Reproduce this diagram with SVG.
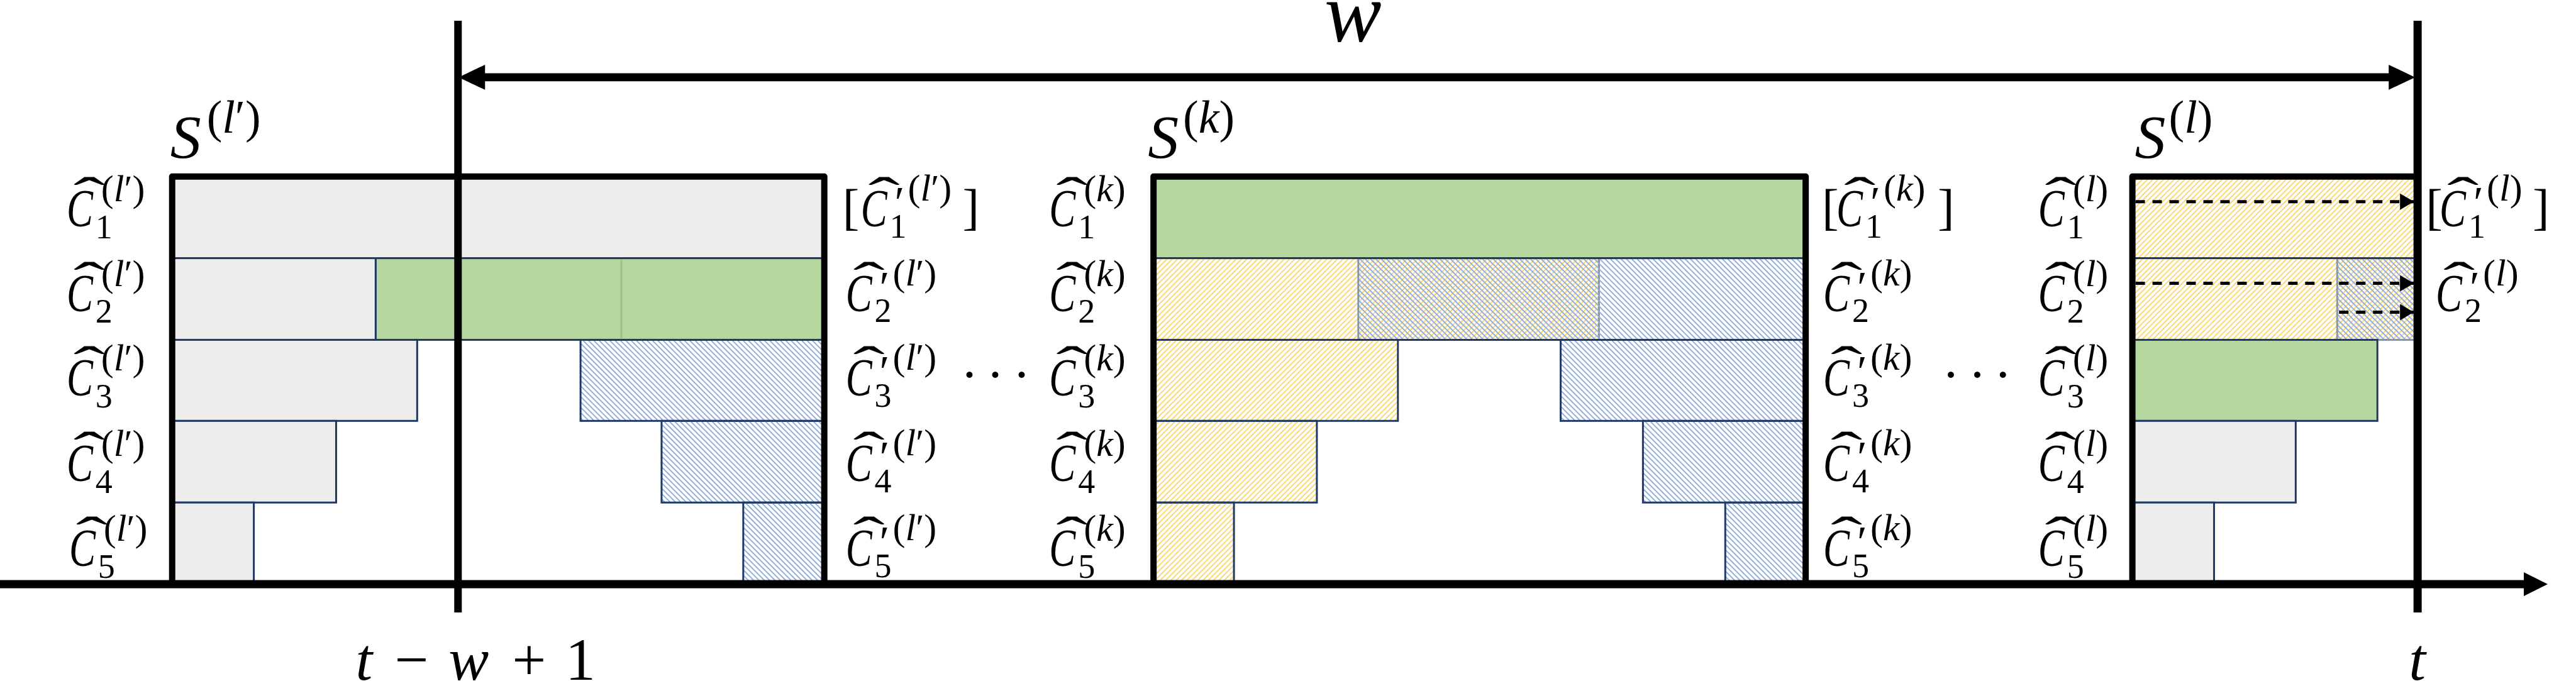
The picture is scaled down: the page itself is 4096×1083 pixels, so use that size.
<svg xmlns="http://www.w3.org/2000/svg" width="4096" height="1083" viewBox="0 0 4096 1083">
<style>
.gr{fill:#EDEDED;stroke:#203864;stroke-width:3}
.gn{fill:#B6D7A0;stroke:#203864;stroke-width:3}
.hy{fill:url(#py);stroke:#203864;stroke-width:3}
.hb{fill:url(#pb);stroke:#203864;stroke-width:3}
.hy2{fill:url(#py);stroke:#8497B0;stroke-width:3}
.hb2{fill:url(#pb);stroke:#8497B0;stroke-width:3}
.nv{stroke:#203864;stroke-width:3;fill:none}
.fr{fill:none;stroke:#000;stroke-width:10;stroke-linejoin:round}
.vl{stroke:#000;stroke-width:12}
.dash{stroke:#000;stroke-width:5;stroke-dasharray:15 12;marker-end:url(#ah)}
text{font-family:"Liberation Serif","Times New Roman",serif;fill:#000}
.C{font-size:84px;font-style:italic}
.hat{font-size:84px}
.sb{font-size:54px}
.sp{font-size:60px}
.pr{font-size:72px}
.i{font-style:italic}
.S{font-size:98px;font-style:italic}
.Sp{font-size:74px}
.br{font-size:80px}
.big{font-size:96px}
.w{font-size:136px;font-style:italic}
.dots{font-size:84px}
</style>
<defs>
<pattern id="py" width="6" height="6" patternUnits="userSpaceOnUse" patternTransform="rotate(45)"><line x1="3" y1="0" x2="3" y2="6" stroke="#FAD673" stroke-width="2"/></pattern>
<pattern id="pb" width="6" height="6" patternUnits="userSpaceOnUse" patternTransform="rotate(-45)"><line x1="3" y1="0" x2="3" y2="6" stroke="#93AEDD" stroke-width="2"/></pattern>
<marker id="ah" markerUnits="userSpaceOnUse" markerWidth="22" markerHeight="26" refX="22" refY="13" orient="auto"><path d="M0,0L22,13L0,26Z" fill="#000"/></marker>
</defs>
<g transform="scale(0.999)">

<g id="box-S-lprime">
<rect class="gr" x="274" y="281" width="1038" height="130"/>
<rect class="gr" x="274" y="411" width="324" height="130"/>
<rect class="gn" x="598" y="411" width="714" height="130"/>
<line x1="989" y1="413" x2="989" y2="539" stroke="#9DC487" stroke-width="3"/>
<rect class="gr" x="274" y="541" width="390" height="129"/>
<rect class="hb" x="924" y="541" width="388" height="129"/>
<rect class="gr" x="274" y="670" width="261" height="130"/>
<rect class="hb" x="1053" y="670" width="259" height="130"/>
<rect class="gr" x="274" y="800" width="130" height="130"/>
<rect class="hb" x="1183" y="800" width="129" height="130"/>
<path class="fr" d="M274,930V281H1312V930"/>
<text class="S" x="271" y="251">S</text><text class="Sp" x="329" y="211">(<tspan class="i">l</tspan>′)</text>
</g>

<g id="box-S-k">
<rect class="gn" x="1836" y="281" width="1038" height="130"/>
<rect class="hy2" x="1836" y="411" width="709" height="130"/>
<rect class="hb2" x="2162" y="411" width="712" height="130"/>
<path class="nv" d="M1836,411H2874M1836,541H2874"/>
<rect class="hy" x="1836" y="541" width="389" height="129"/>
<rect class="hb" x="2484" y="541" width="390" height="129"/>
<rect class="hy" x="1836" y="670" width="260" height="130"/>
<rect class="hb" x="2615" y="670" width="259" height="130"/>
<rect class="hy" x="1836" y="800" width="128" height="130"/>
<rect class="hb" x="2746" y="800" width="128" height="130"/>
<path class="fr" d="M1836,930V281H2874V930"/>
<text class="S" x="1827" y="251">S</text><text class="Sp" x="1883" y="211">(<tspan class="i">k</tspan>)</text>
</g>

<g id="box-S-l">
<rect class="hy" x="3394" y="281" width="454" height="130"/>
<rect class="hy2" x="3394" y="411" width="454" height="130"/>
<rect class="hb2" x="3720" y="411" width="128" height="130"/>
<path class="nv" d="M3394,411H3848"/>
<rect class="gn" x="3394" y="541" width="390" height="129"/>
<rect class="gr" x="3394" y="670" width="260" height="130"/>
<rect class="gr" x="3394" y="800" width="130" height="130"/>
<path class="fr" d="M3394,930V281H3848"/>
<text class="S" x="3398" y="251">S</text><text class="Sp" x="3452" y="211">(<tspan class="i">l</tspan>)</text>
</g>

<g id="connectors">
<line x1="0" y1="930" x2="4020" y2="930" stroke="#000" stroke-width="13"/>
<polygon points="4017,911 4055,930 4017,949" fill="#000"/>
<line class="vl" x1="729" y1="33" x2="729" y2="975"/>
<line x1="3848" y1="33" x2="3848" y2="975" stroke="#000" stroke-width="13"/>
<line x1="770" y1="123" x2="3804" y2="123" stroke="#000" stroke-width="13"/>
<polygon points="730,123 772,103 772,143" fill="#000"/>
<polygon points="3844,123 3802,103 3802,143" fill="#000"/>
<line class="dash" x1="3399" y1="321" x2="3842" y2="321"/>
<line class="dash" x1="3399" y1="451" x2="3842" y2="451"/>
<line class="dash" x1="3723" y1="497" x2="3842" y2="497"/>
</g>

<g id="labels-S-lprime-in">
<g transform="translate(106,360)"><text class="C" transform="scale(.75,1)">C</text><text class="hat" text-anchor="middle" transform="translate(36,-20) scale(1.8,1)">ˆ</text><text class="sb" x="46" y="19">1</text><text class="sp" x="55" y="-40">(<tspan class="i">l</tspan>′)</text></g>
<g transform="translate(106,495)"><text class="C" transform="scale(.75,1)">C</text><text class="hat" text-anchor="middle" transform="translate(36,-20) scale(1.8,1)">ˆ</text><text class="sb" x="46" y="19">2</text><text class="sp" x="55" y="-40">(<tspan class="i">l</tspan>′)</text></g>
<g transform="translate(106,630)"><text class="C" transform="scale(.75,1)">C</text><text class="hat" text-anchor="middle" transform="translate(36,-20) scale(1.8,1)">ˆ</text><text class="sb" x="46" y="19">3</text><text class="sp" x="55" y="-40">(<tspan class="i">l</tspan>′)</text></g>
<g transform="translate(106,766)"><text class="C" transform="scale(.75,1)">C</text><text class="hat" text-anchor="middle" transform="translate(36,-20) scale(1.8,1)">ˆ</text><text class="sb" x="46" y="19">4</text><text class="sp" x="55" y="-40">(<tspan class="i">l</tspan>′)</text></g>
<g transform="translate(110,901)"><text class="C" transform="scale(.75,1)">C</text><text class="hat" text-anchor="middle" transform="translate(36,-20) scale(1.8,1)">ˆ</text><text class="sb" x="46" y="19">5</text><text class="sp" x="55" y="-40">(<tspan class="i">l</tspan>′)</text></g>
</g>

<g id="labels-S-lprime-out">
<text class="br" x="1341" y="356">[</text>
<g transform="translate(1370,360)"><text class="C" transform="scale(.75,1)">C</text><text class="hat" text-anchor="middle" transform="translate(37,-20) scale(1.8,1)">ˆ</text><text class="pr" x="54" y="-14">′</text><text class="sb" x="46" y="18">1</text><text class="sp" x="75" y="-41">(<tspan class="i">l</tspan>′)</text></g>
<text class="br" x="1532" y="356">]</text>
<g transform="translate(1346,495)"><text class="C" transform="scale(.75,1)">C</text><text class="hat" text-anchor="middle" transform="translate(37,-20) scale(1.8,1)">ˆ</text><text class="pr" x="54" y="-14">′</text><text class="sb" x="46" y="18">2</text><text class="sp" x="75" y="-41">(<tspan class="i">l</tspan>′)</text></g>
<g transform="translate(1346,630)"><text class="C" transform="scale(.75,1)">C</text><text class="hat" text-anchor="middle" transform="translate(37,-20) scale(1.8,1)">ˆ</text><text class="pr" x="54" y="-14">′</text><text class="sb" x="46" y="18">3</text><text class="sp" x="75" y="-41">(<tspan class="i">l</tspan>′)</text></g>
<g transform="translate(1346,766)"><text class="C" transform="scale(.75,1)">C</text><text class="hat" text-anchor="middle" transform="translate(37,-20) scale(1.8,1)">ˆ</text><text class="pr" x="54" y="-14">′</text><text class="sb" x="46" y="18">4</text><text class="sp" x="75" y="-41">(<tspan class="i">l</tspan>′)</text></g>
<g transform="translate(1346,901)"><text class="C" transform="scale(.75,1)">C</text><text class="hat" text-anchor="middle" transform="translate(37,-20) scale(1.8,1)">ˆ</text><text class="pr" x="54" y="-14">′</text><text class="sb" x="46" y="18">5</text><text class="sp" x="75" y="-41">(<tspan class="i">l</tspan>′)</text></g>
</g>

<g id="labels-S-k-in">
<g transform="translate(1670,360)"><text class="C" transform="scale(.75,1)">C</text><text class="hat" text-anchor="middle" transform="translate(36,-20) scale(1.8,1)">ˆ</text><text class="sb" x="46" y="19">1</text><text class="sp" x="55" y="-40">(<tspan class="i">k</tspan>)</text></g>
<g transform="translate(1670,495)"><text class="C" transform="scale(.75,1)">C</text><text class="hat" text-anchor="middle" transform="translate(36,-20) scale(1.8,1)">ˆ</text><text class="sb" x="46" y="19">2</text><text class="sp" x="55" y="-40">(<tspan class="i">k</tspan>)</text></g>
<g transform="translate(1670,630)"><text class="C" transform="scale(.75,1)">C</text><text class="hat" text-anchor="middle" transform="translate(36,-20) scale(1.8,1)">ˆ</text><text class="sb" x="46" y="19">3</text><text class="sp" x="55" y="-40">(<tspan class="i">k</tspan>)</text></g>
<g transform="translate(1670,766)"><text class="C" transform="scale(.75,1)">C</text><text class="hat" text-anchor="middle" transform="translate(36,-20) scale(1.8,1)">ˆ</text><text class="sb" x="46" y="19">4</text><text class="sp" x="55" y="-40">(<tspan class="i">k</tspan>)</text></g>
<g transform="translate(1670,901)"><text class="C" transform="scale(.75,1)">C</text><text class="hat" text-anchor="middle" transform="translate(36,-20) scale(1.8,1)">ˆ</text><text class="sb" x="46" y="19">5</text><text class="sp" x="55" y="-40">(<tspan class="i">k</tspan>)</text></g>
</g>

<g id="labels-S-k-out">
<text class="br" x="2900" y="356">[</text>
<g transform="translate(2923,360)"><text class="C" transform="scale(.75,1)">C</text><text class="hat" text-anchor="middle" transform="translate(37,-20) scale(1.8,1)">ˆ</text><text class="pr" x="54" y="-14">′</text><text class="sb" x="46" y="18">1</text><text class="sp" x="75" y="-41">(<tspan class="i">k</tspan>)</text></g>
<text class="br" x="3084" y="356">]</text>
<g transform="translate(2902,495)"><text class="C" transform="scale(.75,1)">C</text><text class="hat" text-anchor="middle" transform="translate(37,-20) scale(1.8,1)">ˆ</text><text class="pr" x="54" y="-14">′</text><text class="sb" x="46" y="18">2</text><text class="sp" x="75" y="-41">(<tspan class="i">k</tspan>)</text></g>
<g transform="translate(2902,630)"><text class="C" transform="scale(.75,1)">C</text><text class="hat" text-anchor="middle" transform="translate(37,-20) scale(1.8,1)">ˆ</text><text class="pr" x="54" y="-14">′</text><text class="sb" x="46" y="18">3</text><text class="sp" x="75" y="-41">(<tspan class="i">k</tspan>)</text></g>
<g transform="translate(2902,766)"><text class="C" transform="scale(.75,1)">C</text><text class="hat" text-anchor="middle" transform="translate(37,-20) scale(1.8,1)">ˆ</text><text class="pr" x="54" y="-14">′</text><text class="sb" x="46" y="18">4</text><text class="sp" x="75" y="-41">(<tspan class="i">k</tspan>)</text></g>
<g transform="translate(2902,901)"><text class="C" transform="scale(.75,1)">C</text><text class="hat" text-anchor="middle" transform="translate(37,-20) scale(1.8,1)">ˆ</text><text class="pr" x="54" y="-14">′</text><text class="sb" x="46" y="18">5</text><text class="sp" x="75" y="-41">(<tspan class="i">k</tspan>)</text></g>
</g>

<g id="labels-S-l-in">
<g transform="translate(3244,360)"><text class="C" transform="scale(.75,1)">C</text><text class="hat" text-anchor="middle" transform="translate(36,-20) scale(1.8,1)">ˆ</text><text class="sb" x="46" y="19">1</text><text class="sp" x="55" y="-40">(<tspan class="i">l</tspan>)</text></g>
<g transform="translate(3244,495)"><text class="C" transform="scale(.75,1)">C</text><text class="hat" text-anchor="middle" transform="translate(36,-20) scale(1.8,1)">ˆ</text><text class="sb" x="46" y="19">2</text><text class="sp" x="55" y="-40">(<tspan class="i">l</tspan>)</text></g>
<g transform="translate(3244,630)"><text class="C" transform="scale(.75,1)">C</text><text class="hat" text-anchor="middle" transform="translate(36,-20) scale(1.8,1)">ˆ</text><text class="sb" x="46" y="19">3</text><text class="sp" x="55" y="-40">(<tspan class="i">l</tspan>)</text></g>
<g transform="translate(3244,766)"><text class="C" transform="scale(.75,1)">C</text><text class="hat" text-anchor="middle" transform="translate(36,-20) scale(1.8,1)">ˆ</text><text class="sb" x="46" y="19">4</text><text class="sp" x="55" y="-40">(<tspan class="i">l</tspan>)</text></g>
<g transform="translate(3244,901)"><text class="C" transform="scale(.75,1)">C</text><text class="hat" text-anchor="middle" transform="translate(36,-20) scale(1.8,1)">ˆ</text><text class="sb" x="46" y="19">5</text><text class="sp" x="55" y="-40">(<tspan class="i">l</tspan>)</text></g>
</g>

<g id="labels-S-l-out">
<text class="br" x="3861" y="356">[</text>
<g transform="translate(3883,360)"><text class="C" transform="scale(.75,1)">C</text><text class="hat" text-anchor="middle" transform="translate(37,-20) scale(1.8,1)">ˆ</text><text class="pr" x="54" y="-14">′</text><text class="sb" x="46" y="18">1</text><text class="sp" x="75" y="-41">(<tspan class="i">l</tspan>)</text></g>
<text class="br" x="4031" y="356">]</text>
<g transform="translate(3877,495)"><text class="C" transform="scale(.75,1)">C</text><text class="hat" text-anchor="middle" transform="translate(37,-20) scale(1.8,1)">ˆ</text><text class="pr" x="54" y="-14">′</text><text class="sb" x="46" y="18">2</text><text class="sp" x="75" y="-41">(<tspan class="i">l</tspan>)</text></g>
</g>

<g id="ellipses">
<text class="dots" x="1543 1584 1626" y="625" text-anchor="middle">···</text>
<text class="dots" x="3105 3147 3188" y="625" text-anchor="middle">···</text>
</g>

<g id="axis-labels">
<text class="w" x="2108" y="66">w</text>
<text class="big" y="1082"><tspan class="i" x="566">t</tspan><tspan x="628">−</tspan><tspan class="i" x="714">w</tspan><tspan x="815">+</tspan><tspan x="900">1</tspan></text>
<text class="big i" x="3834" y="1082">t</text>
</g>

</g>
</svg>
